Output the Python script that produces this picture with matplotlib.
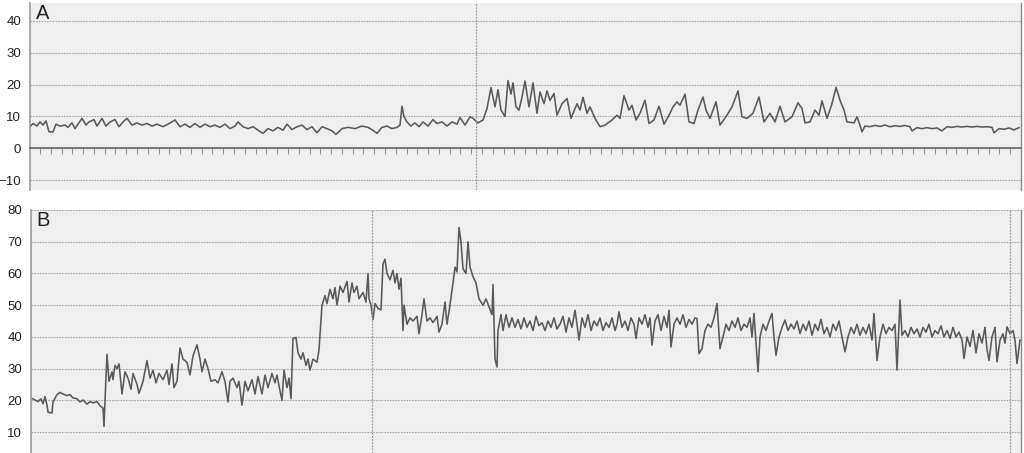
import matplotlib
matplotlib.use('Agg')
import matplotlib.pyplot as plt
import numpy as np
from matplotlib.ticker import MultipleLocator, FixedLocator

plt.rcParams['font.family'] = ['Liberation Sans', 'DejaVu Sans']

# panel A trace: (time, value), time in arbitrary sample units
a_trace = [
    (30, 6.8), (33, 7.8), (37, 7.0), (40, 8.3), (43, 7.3), (46, 8.6), (49, 5.2), (53, 5.2), (56, 7.6), (60, 7.0),
    (65, 7.3), (68, 6.6), (72, 8.0), (75, 6.2), (78, 7.6), (82, 9.4), (86, 7.3), (89, 8.3), (94, 9.0), (97, 7.0),
    (102, 9.4), (106, 7.0), (110, 8.3), (115, 9.0), (119, 6.8), (123, 8.3), (127, 9.4), (132, 7.3), (137, 8.0), (142, 7.3),
    (147, 7.8), (152, 7.0), (157, 7.6), (163, 6.8), (168, 7.6), (175, 8.9), (180, 6.8), (185, 7.6), (190, 6.6), (195, 7.8),
    (200, 6.6), (205, 7.6), (210, 6.8), (215, 7.3), (220, 6.6), (225, 7.6), (230, 6.2), (235, 7.0), (238, 8.3), (243, 6.8),
    (248, 6.2), (253, 6.8), (258, 5.7), (263, 4.7), (268, 6.2), (273, 5.5), (278, 6.6), (283, 5.7), (287, 7.6), (292, 5.9),
    (297, 6.8), (302, 7.3), (307, 5.9), (312, 6.8), (317, 4.9), (322, 6.8), (327, 6.2), (332, 5.5), (336, 4.4), (342, 6.2),
    (348, 6.6), (355, 6.2), (362, 7.0), (368, 6.6), (373, 5.7), (377, 4.7), (382, 6.6), (387, 7.0), (392, 6.2), (397, 6.6),
    (400, 7.3), (402, 13.2), (404, 9.9), (407, 8.3), (411, 7.0), (415, 8.0), (419, 6.8), (423, 8.3), (428, 7.0), (433, 9.0),
    (437, 7.8), (442, 8.3), (447, 7.0), (452, 8.3), (457, 7.6), (460, 9.7), (465, 7.3), (470, 9.9), (473, 9.4), (478, 8.0),
    (483, 8.9), (487, 12.5), (491, 19.0), (495, 13.0), (498, 18.4), (501, 12.0), (505, 10.0), (508, 21.2), (511, 17.0), (513, 20.5),
    (516, 13.0), (519, 12.0), (522, 16.0), (525, 21.1), (529, 13.0), (533, 20.5), (537, 11.0), (540, 17.7), (544, 14.0), (547, 18.0),
    (550, 15.0), (554, 17.2), (557, 10.4), (562, 14.0), (567, 15.6), (571, 9.4), (577, 14.0), (580, 12.0), (583, 16.0), (587, 11.0),
    (590, 13.0), (595, 9.4), (600, 6.8), (605, 7.3), (612, 8.9), (617, 10.4), (620, 9.4), (624, 16.5), (629, 12.0), (632, 13.5),
    (636, 8.9), (640, 11.0), (645, 15.1), (649, 7.8), (654, 8.9), (659, 13.2), (664, 7.6), (669, 10.4), (673, 13.0), (677, 14.6),
    (680, 13.5), (685, 17.0), (689, 8.3), (694, 7.8), (698, 12.0), (703, 16.1), (706, 12.0), (710, 9.4), (716, 14.6), (720, 7.3),
    (727, 10.4), (732, 13.0), (738, 18.0), (742, 9.9), (747, 9.4), (753, 11.0), (759, 16.1), (764, 8.3), (770, 11.0), (775, 8.3),
    (780, 13.2), (785, 8.3), (792, 9.9), (798, 14.3), (802, 12.5), (805, 8.0), (810, 8.3), (815, 12.0), (819, 10.4), (822, 14.9),
    (827, 9.4), (832, 14.0), (836, 19.1), (840, 15.1), (844, 12.0), (847, 8.3), (854, 8.0), (857, 9.9), (860, 7.3), (862, 5.2),
    (865, 7.0), (870, 6.8), (875, 7.2), (880, 6.9), (885, 7.3), (890, 6.8), (895, 7.1), (900, 6.9), (905, 7.2), (910, 6.8),
    (912, 5.5), (917, 6.5), (922, 6.2), (927, 6.5), (932, 6.2), (937, 6.4), (942, 5.5), (947, 6.8), (952, 6.6), (957, 6.9),
    (962, 6.7), (967, 6.9), (972, 6.7), (977, 6.9), (982, 6.7), (987, 6.8), (992, 6.6), (994, 4.9), (999, 6.2), (1004, 6.0),
    (1009, 6.4), (1014, 5.8), (1019, 6.5),
]
a_events = [476]

# panel B trace
b_trace = [
    (32, 20.6), (35, 20.1), (38, 19.6), (41, 20.5), (43, 18.9), (45, 21.2), (47, 18.5), (48, 16.3), (52, 16.0), (53, 19.5),
    (57, 21.8), (60, 22.5), (63, 22.0), (67, 21.5), (70, 21.8), (73, 20.8), (77, 20.5), (80, 19.5), (83, 20.1), (87, 18.8),
    (90, 19.6), (93, 19.2), (97, 19.6), (100, 18.3), (103, 17.5), (104, 11.8), (105, 20.0), (107, 34.5), (109, 26.0), (112, 29.0),
    (113, 26.5), (115, 31.0), (117, 30.0), (119, 31.5), (122, 22.0), (125, 29.0), (128, 27.0), (131, 23.5), (133, 28.5), (137, 25.0),
    (139, 22.2), (143, 26.0), (147, 32.5), (150, 27.0), (153, 29.5), (156, 25.5), (159, 28.5), (163, 26.5), (167, 29.5), (169, 25.0),
    (172, 31.5), (174, 24.0), (177, 26.0), (180, 36.5), (183, 33.0), (187, 32.0), (190, 28.0), (193, 34.0), (197, 37.5), (200, 33.0),
    (202, 29.0), (205, 33.0), (208, 30.0), (211, 26.0), (215, 26.5), (218, 25.5), (222, 29.0), (225, 26.0), (228, 19.5), (230, 26.0),
    (233, 27.0), (237, 24.0), (239, 26.0), (242, 18.5), (245, 26.0), (248, 23.0), (252, 26.5), (255, 22.0), (258, 27.5), (262, 22.0),
    (265, 28.0), (268, 24.0), (272, 28.5), (275, 25.5), (277, 28.0), (280, 23.0), (282, 20.0), (284, 29.5), (287, 24.0), (289, 27.0),
    (291, 20.5), (293, 39.5), (296, 39.8), (298, 35.0), (301, 33.0), (303, 35.0), (306, 31.0), (308, 33.0), (310, 29.5), (313, 33.0),
    (317, 32.0), (319, 36.0), (322, 50.0), (325, 53.0), (327, 50.5), (330, 55.0), (333, 52.0), (335, 55.5), (337, 50.0), (340, 56.0),
    (343, 54.0), (347, 57.5), (349, 51.0), (352, 57.0), (354, 54.0), (357, 56.0), (359, 52.0), (363, 54.0), (366, 51.0), (368, 60.0),
    (369, 52.0), (371, 50.0), (373, 45.5), (375, 50.5), (378, 49.0), (381, 48.5), (383, 63.0), (385, 64.5), (387, 60.0), (390, 58.0),
    (393, 61.0), (395, 57.0), (397, 60.0), (399, 55.0), (401, 58.5), (403, 42.0), (404, 50.0), (407, 44.0), (410, 46.0), (413, 45.0),
    (417, 46.5), (419, 41.0), (422, 47.0), (424, 52.0), (427, 45.0), (430, 46.0), (433, 44.5), (437, 46.5), (439, 41.5), (442, 44.0),
    (445, 51.0), (447, 44.0), (450, 50.0), (453, 57.0), (455, 62.0), (457, 60.5), (459, 74.5), (461, 70.0), (463, 61.5), (466, 60.0),
    (468, 70.0), (470, 62.0), (473, 59.0), (476, 57.0), (479, 52.0), (483, 50.0), (486, 52.0), (489, 49.5), (492, 47.0), (493, 56.5),
    (495, 33.0), (497, 30.5), (498, 42.0), (501, 47.0), (503, 42.0), (506, 47.0), (509, 43.0), (512, 46.0), (515, 43.0), (518, 45.5),
    (521, 42.5), (524, 46.0), (527, 43.0), (530, 45.0), (533, 42.0), (536, 46.5), (539, 43.5), (542, 44.5), (545, 42.0), (548, 45.0),
    (551, 43.0), (554, 46.0), (557, 42.5), (560, 44.0), (563, 46.5), (566, 41.5), (569, 46.0), (572, 43.0), (575, 48.4), (577, 44.0),
    (579, 39.0), (582, 46.0), (585, 43.0), (588, 47.0), (591, 42.0), (594, 45.0), (597, 43.5), (600, 46.0), (603, 42.0), (606, 44.5),
    (609, 43.0), (612, 46.0), (615, 42.0), (617, 44.0), (619, 47.9), (622, 43.0), (625, 45.0), (628, 42.0), (631, 46.0), (634, 44.0),
    (636, 39.5), (639, 46.0), (642, 44.0), (645, 47.0), (648, 43.0), (650, 46.0), (652, 37.4), (655, 45.0), (658, 47.0), (661, 42.0),
    (664, 46.5), (667, 43.0), (669, 48.4), (671, 36.8), (674, 44.0), (677, 46.0), (680, 44.0), (683, 47.0), (686, 43.0), (689, 45.5),
    (692, 44.0), (695, 46.0), (697, 45.8), (699, 34.7), (702, 36.3), (705, 42.0), (708, 44.0), (711, 43.0), (714, 46.0), (717, 50.5),
    (720, 36.3), (723, 40.0), (726, 44.0), (729, 42.0), (732, 45.0), (735, 43.0), (738, 46.0), (741, 42.0), (744, 44.0), (747, 43.0),
    (750, 46.0), (752, 40.0), (754, 47.4), (756, 38.0), (758, 29.0), (760, 40.0), (763, 44.0), (766, 42.0), (769, 45.0), (772, 47.4),
    (774, 40.0), (776, 34.2), (779, 40.0), (782, 43.0), (785, 45.3), (788, 42.0), (791, 44.0), (794, 42.5), (797, 45.0), (800, 41.0),
    (803, 44.0), (806, 42.0), (809, 45.0), (812, 40.5), (815, 44.0), (818, 42.0), (821, 45.5), (824, 41.0), (827, 43.0), (830, 40.0),
    (833, 44.0), (836, 42.0), (839, 45.0), (842, 40.0), (845, 35.3), (848, 40.0), (851, 43.0), (854, 41.0), (857, 44.0), (860, 40.5),
    (863, 43.0), (866, 41.0), (869, 44.0), (872, 39.0), (874, 47.4), (877, 32.6), (880, 40.0), (883, 44.0), (886, 41.0), (889, 43.0),
    (892, 42.0), (895, 44.0), (897, 29.5), (900, 51.6), (902, 40.5), (905, 42.0), (908, 40.0), (911, 43.0), (914, 41.0), (917, 42.5),
    (920, 40.0), (923, 43.0), (926, 41.5), (929, 44.0), (932, 40.0), (935, 42.0), (938, 41.0), (941, 43.5), (944, 40.0), (947, 42.0),
    (950, 39.5), (953, 43.0), (956, 40.0), (959, 41.5), (962, 39.0), (964, 33.2), (967, 40.0), (970, 37.0), (973, 42.0), (976, 35.0),
    (979, 41.0), (982, 38.0), (985, 43.0), (987, 36.0), (989, 32.6), (992, 40.0), (995, 43.0), (997, 32.1), (1000, 39.0), (1003, 41.0),
    (1005, 38.0), (1007, 43.2), (1010, 41.0), (1013, 42.0), (1015, 39.0), (1017, 31.6), (1020, 39.0),
]
b_events = [372, 1010]

bg = '#efefef'
line_col = '#5a5a5a'
grid_col = '#a8a8a8'

fig = plt.figure(figsize=(10.24, 4.53), dpi=100)
ax_a = fig.add_axes([30 / 1024, 1 - 190 / 453, 991 / 1024, 187 / 453])
ax_b = fig.add_axes([31 / 1024, 0, 990 / 1024, 243 / 453])

for ax in (ax_a, ax_b):
    ax.set_facecolor(bg)
    ax.grid(axis='y', color=grid_col, linestyle=(0, (1.5, 1)), linewidth=0.8)
    ax.set_axisbelow(True)
    ax.spines['top'].set_visible(False)
    ax.spines['left'].set_color('#9a9a9a')
    ax.spines['left'].set_linewidth(1.2)
    ax.spines['right'].set_color('#8a8a8a')
    ax.spines['right'].set_linewidth(1.0)
    ax.tick_params(axis='y', length=0, pad=6.5, labelsize=9.5, labelcolor='#222222')
    ax.yaxis.set_major_locator(MultipleLocator(10))

# panel A
a_t, a_val = zip(*a_trace)
ax_a.plot(a_t, a_val, color=line_col, lw=1.15)
ax_a.set_xlim(30, 1021)
ax_a.set_ylim(-13.0, 45.5)
ax_a.spines['bottom'].set_position(('data', 0))
ax_a.spines['bottom'].set_color('#666666')
ax_a.spines['bottom'].set_linewidth(1.2)
ax_a.xaxis.set_major_locator(FixedLocator(np.arange(40, 1021, 10.78)))
ax_a.tick_params(axis='x', direction='out', length=4, width=0.6, color='#888888',
                 labelbottom=False)
for ev in a_events:
    ax_a.axvline(ev, color='#9a9a9a', linestyle=(0, (1.5, 1)), linewidth=0.9)
ax_a.text(0.006, 0.995, 'A', transform=ax_a.transAxes, fontsize=14.5, va='top', ha='left',
          color='#222222')

# panel B
b_t, b_val = zip(*b_trace)
ax_b.plot(b_t, b_val, color=line_col, lw=1.15)
ax_b.set_xlim(31, 1021)
ax_b.set_ylim(3.4, 80)
ax_b.spines['bottom'].set_visible(False)
ax_b.tick_params(axis='x', length=0, labelbottom=False)
for ev in b_events:
    ax_b.axvline(ev, color='#9a9a9a', linestyle=(0, (1.5, 1)), linewidth=0.9)
ax_b.text(0.005, 0.995, 'B', transform=ax_b.transAxes, fontsize=14.5, va='top', ha='left',
          color='#222222')

fig.savefig('out.png', dpi=100, facecolor='white')
